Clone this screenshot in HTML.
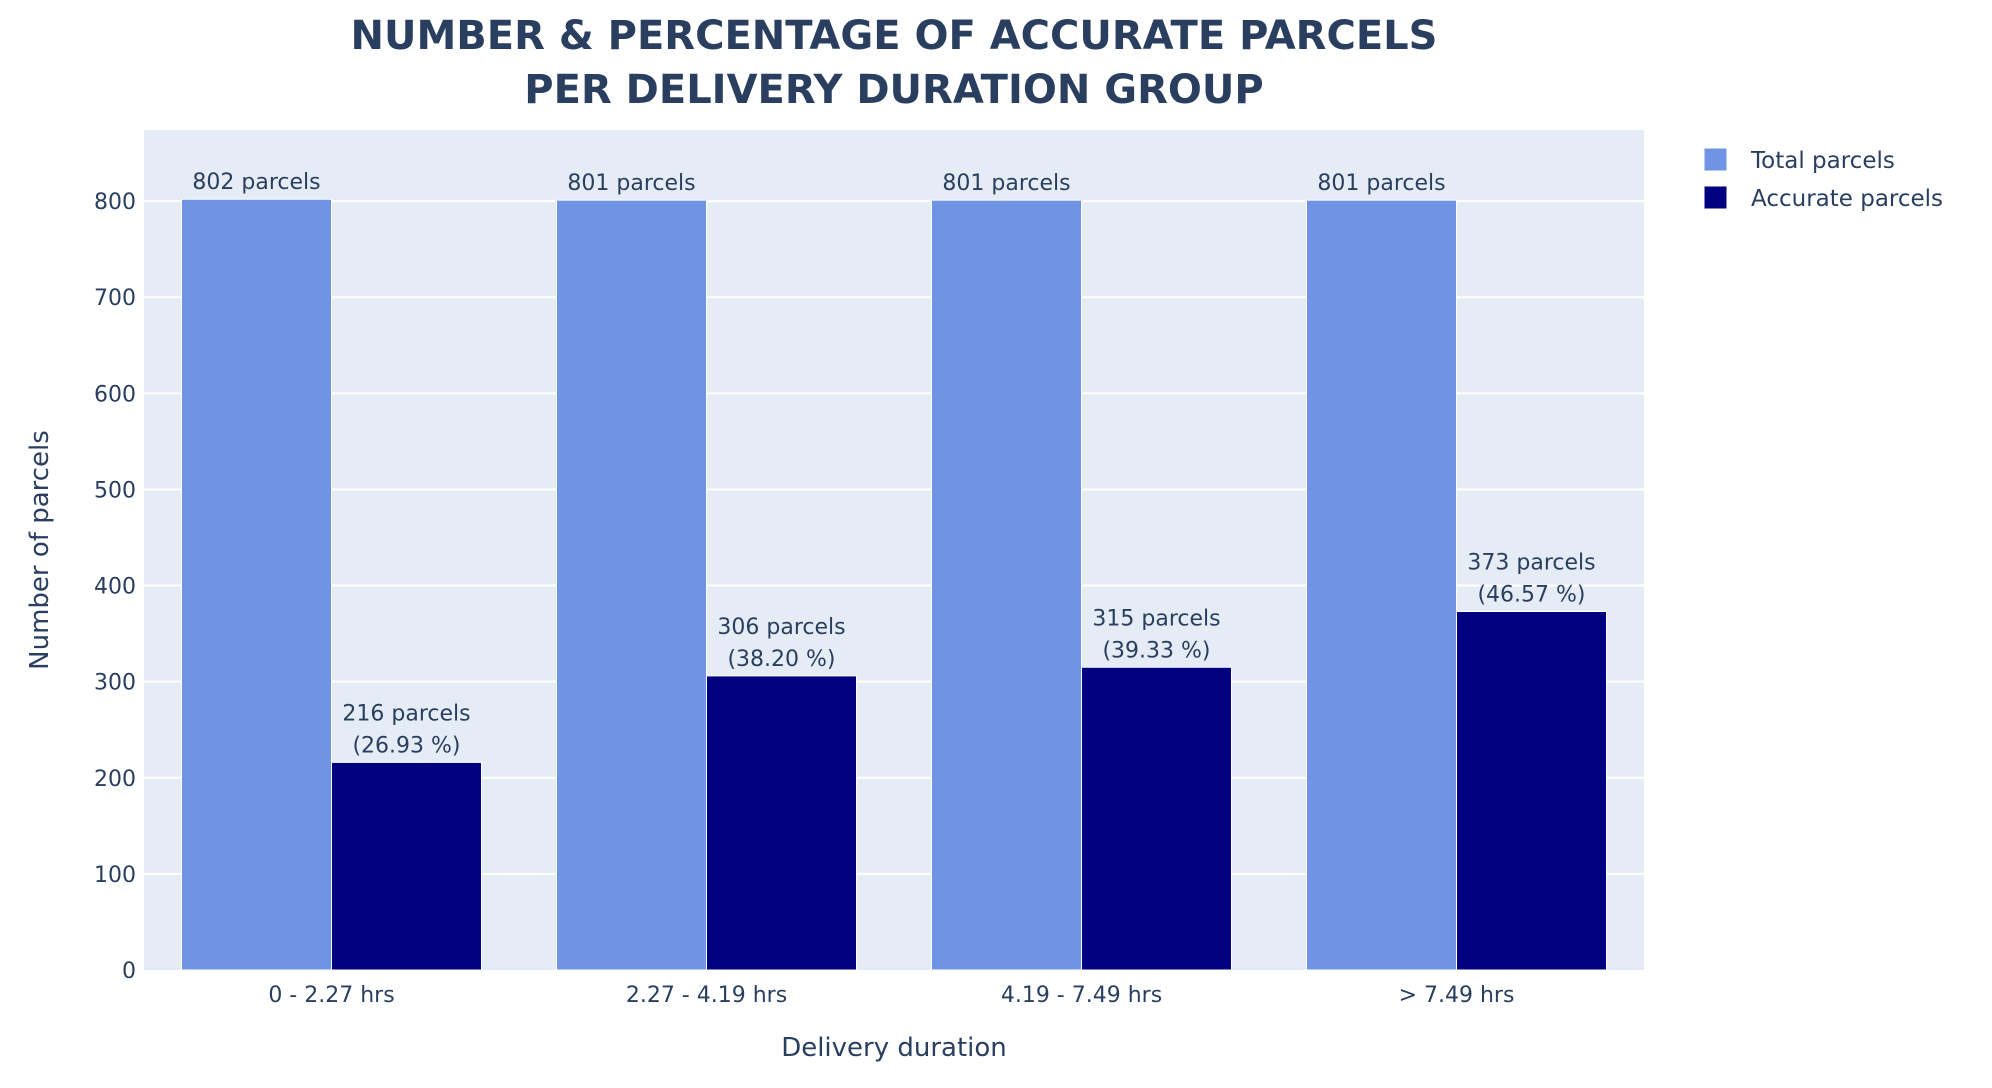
<!DOCTYPE html>
<html><head><meta charset="utf-8"><style>
body{margin:0;background:#fff;}
svg{display:block;font-family:"DejaVu Sans","Liberation Sans",sans-serif;}
</style></head><body>
<svg id="chart" width="1992" height="1088">
<rect x="144" y="130" width="1500" height="840" fill="#e5ecf6"/>
<g id="grid"></g><g id="bars"></g><g id="labels"></g>
<text x="894" y="49" text-anchor="middle" font-size="40" font-weight="bold" fill="#2a3f5f">NUMBER &amp; PERCENTAGE OF ACCURATE PARCELS</text>
<text x="894" y="103" text-anchor="middle" font-size="40" font-weight="bold" fill="#2a3f5f">PER DELIVERY DURATION GROUP</text>
<text x="894" y="1056" text-anchor="middle" font-size="26" fill="#2a3f5f">Delivery duration</text>
<text x="0" y="0" transform="translate(48,550) rotate(-90)" text-anchor="middle" font-size="26" fill="#2a3f5f">Number of parcels</text>
<g>
<g><rect x="1704" y="148" width="23" height="23" fill="#6f94e3" stroke="#fff" stroke-width="1"/><text x="1751" y="168" font-size="23" fill="#2a3f5f">Total parcels</text></g>
<g><rect x="1704" y="186" width="23" height="23" fill="#000080" stroke="#fff" stroke-width="1"/><text x="1751" y="206" font-size="23" fill="#2a3f5f">Accurate parcels</text></g>
</g>
</svg>
<script>
const categories=["0 - 2.27 hrs","2.27 - 4.19 hrs","4.19 - 7.49 hrs","> 7.49 hrs"];
const totalParcels=[802,801,801,801];
const accurateParcels=[216,306,315,373];
const accuratePct=["26.93","38.20","39.33","46.57"];
const yTicks=[0,100,200,300,400,500,600,700,800];
const NS="http://www.w3.org/2000/svg";
const L=144,R=1644,T=130,B=970,YMAX=874;
const y=v=>B-(v/YMAX)*(B-T);
const band=(R-L)/categories.length;
const xc=i=>L+band*(i+0.5);
const bw=band*0.8/2;
function mk(tag,attrs,parent){const e=document.createElementNS(NS,tag);for(const k in attrs)e.setAttribute(k,attrs[k]);document.getElementById(parent).appendChild(e);return e;}
yTicks.forEach(t=>{
  if(t>0){const g=mk('line',{x1:L,x2:R,y1:y(t),y2:y(t),stroke:'#fff','stroke-width':2},'grid');
  
  }
  const tx=mk('text',{x:L-8,y:y(t)+8,'text-anchor':'end','font-size':22,fill:'#2a3f5f'},'grid');
  tx.textContent=t;
  
  
});
categories.forEach((c,i)=>{
  const x0=xc(i)-bw;
  const b1=mk('rect',{x:x0,y:y(totalParcels[i]),width:bw,height:B-y(totalParcels[i]),fill:'#6f94e3',stroke:'#fff','stroke-width':1},'bars');
  
  
  const b2=mk('rect',{x:xc(i),y:y(accurateParcels[i]),width:bw,height:B-y(accurateParcels[i]),fill:'#000080',stroke:'#fff','stroke-width':1},'bars');
  
  
  const t1=mk('text',{x:x0+bw/2,y:y(totalParcels[i])-10,'text-anchor':'middle','font-size':22,fill:'#2a3f5f'},'labels');
  t1.textContent=totalParcels[i]+' parcels';
  
  
  const t2=mk('text',{x:xc(i)+bw/2,y:y(accurateParcels[i])-42,'text-anchor':'middle','font-size':22,fill:'#2a3f5f'},'labels');
  t2.textContent=accurateParcels[i]+' parcels';
  
  
  const t3=mk('text',{x:xc(i)+bw/2,y:y(accurateParcels[i])-10,'text-anchor':'middle','font-size':22,fill:'#2a3f5f'},'labels');
  t3.textContent='('+accuratePct[i]+' %)';
  
  
  const tx=mk('text',{x:xc(i),y:B+32,'text-anchor':'middle','font-size':22,fill:'#2a3f5f'},'labels');
  tx.textContent=c;
  
  
});
</script>
</body></html>
